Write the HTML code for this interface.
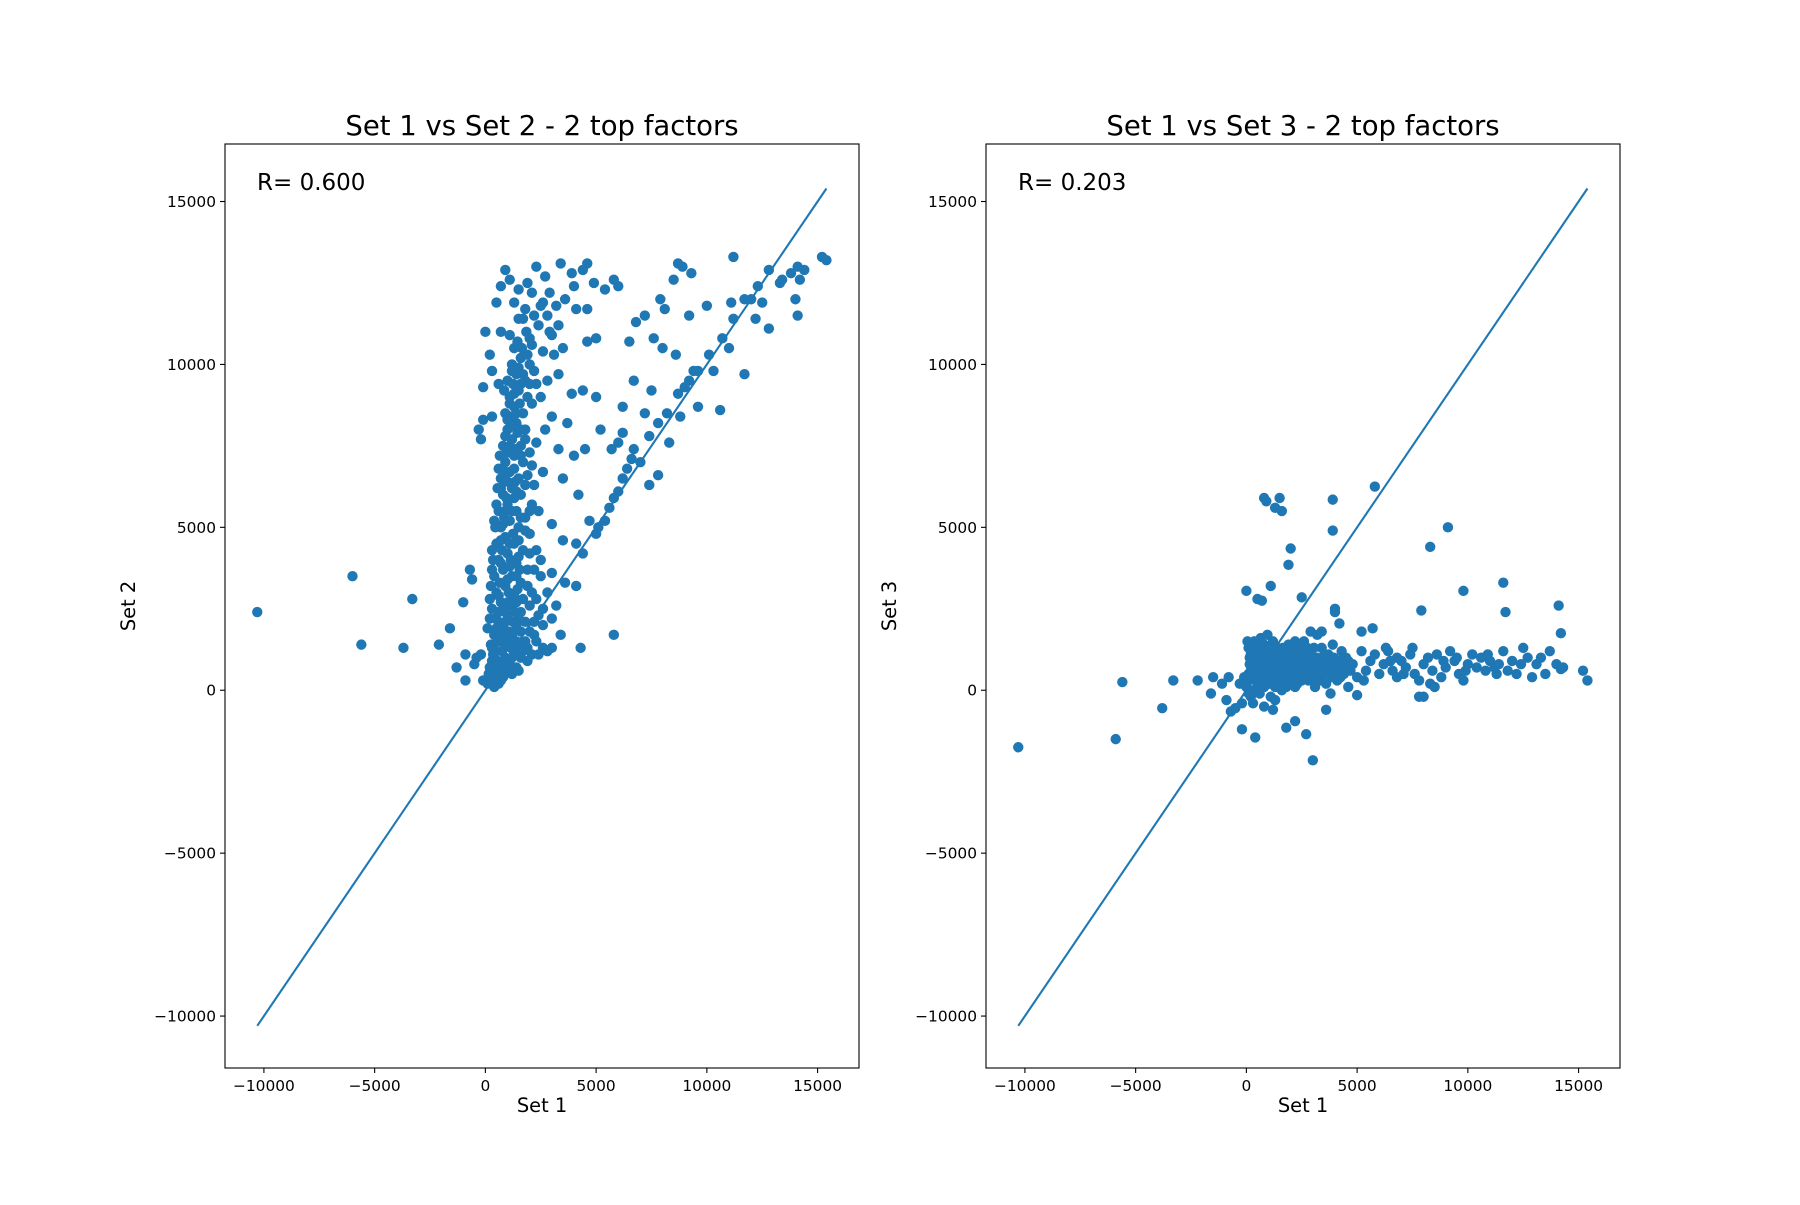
<!DOCTYPE html>
<html><head><meta charset="utf-8"><style>
html,body{margin:0;padding:0;background:#fff;}
svg text{font-family:"DejaVu Sans","Liberation Sans",sans-serif;fill:#000;}
</style></head><body>
<svg id="fig" width="1800" height="1200" viewBox="0 0 1800 1200" xmlns="http://www.w3.org/2000/svg"></svg>
<script>
// ---- data ----
const xTicks = [-10000, -5000, 0, 5000, 10000, 15000];
const yTicks = [-10000, -5000, 0, 5000, 10000, 15000];
const tickLabels = ["\u221210000", "\u22125000", "0", "5000", "10000", "15000"];
const titles = ["Set 1 vs Set 2 - 2 top factors", "Set 1 vs Set 3 - 2 top factors"];
const yLabels = ["Set 2", "Set 3"];
const rValues = ["0.600", "0.203"];
const lineStart = -10300;
const lineEnd = 15400;

const set2Points = [
[-10300,2400],[-6000,3500],[-5600,1400],[-3700,1300],[-3300,2800],[-2100,1400],[-1600,1900],[-1300,700],[-1000,2700],[-900,1100],[-900,300],[-700,3700],[-600,3400],[-500,800],[-400,1000],[-200,1100],[-100,300],[5800,1700],[4300,1300],[3000,1300],[2600,1300],
[100,200],[200,300],[300,250],[400,500],[500,350],[600,700],[300,900],[800,600],[500,1200],[900,1000],[1100,800],[700,1500],[1000,1400],[1300,1100],[400,1700],[800,1900],[1200,1600],[1500,1300],[600,2100],[1000,2300],[1400,2000],[1800,1500],[300,2500],[700,2700],[1100,2600],[1600,2400],[2000,1800],[500,3000],[900,3200],[1300,2900],[1700,2800],[2200,2100],[400,3500],[800,3700],[1200,3500],[1600,3300],[2100,3000],[600,4000],[1000,4200],[1400,3900],[1900,3700],[500,4500],[900,4700],[1300,4500],[1700,4300],[700,5000],[1100,5200],[1500,5000],[2000,4800],[600,5500],[1000,5700],[1400,5500],[1800,5300],[800,6000],[1200,6200],[1600,6000],[700,6500],[1100,6700],[1500,6500],[900,7000],[1300,7200],[1700,7000],[800,7500],[1200,7700],[1600,7500],[1000,8000],[1400,8200],[1800,8000],[900,8500],[1300,8700],[1700,8500],[1100,9000],[1500,9200],[1900,9000],[1000,9500],[1400,9700],[1800,9500],[1200,10000],[1600,10200],[2000,10000],
[200,700],[350,1100],[550,900],[750,1200],[950,600],[1150,1300],[250,1400],[650,1700],[850,1400],[1050,1800],[1250,2100],[450,2200],[850,2500],[1350,2400],[250,3200],[650,3300],[1050,3000],[1450,3100],[350,4000],[750,4300],[1150,4000],[1550,3700],[450,5000],[850,5300],[1250,4800],[950,5900],[1350,6400],[550,6200],[1050,7300],[1450,7900],[650,7200],[1150,8400],[1550,8800],[850,9200],[1250,9400],[1650,10500],[1450,10700],[1850,11000],[2200,6300],[2400,5500],[2600,6700],[2300,7600],[2700,8000],[2500,9000],[1900,6600],[2100,5700],[2300,4300],[2500,3500],[2800,3000],[3200,2600],[2000,2600],[2400,2300],[1800,2100],[1600,1800],[1400,1500],[1200,1000],[1000,700],[800,400],[600,200],[1700,1200],[2100,1100],[1900,900],
[150,500],[450,800],[650,450],[900,800],[1200,1300],[1400,700],[1600,1000],[300,1300],[550,1500],[900,1600],[1300,1800],[100,1900],[500,1900],[900,2100],[1500,2200],[200,2200],[600,2400],[1000,2700],[1400,2700],[200,2800],[600,2900],[1000,3400],[1400,3500],[300,3700],[700,3900],[1100,3800],[1500,4100],[300,4300],[700,4600],[1100,4500],[1500,4600],[400,5200],[800,5100],[1200,5500],[1600,5300],[500,5700],[900,5500],[1300,5900],[700,6200],[1000,6400],[1400,6100],[600,6800],[900,6700],[1300,6800],[1600,7200],[800,7200],[1100,7500],[1400,7400],[900,7800],[1200,8100],[1600,8000],[1000,8300],[1400,8500],[1100,8800],[1300,9100],[1600,9400],[1200,9800],[1500,9900],[1700,9700],[1900,10300],[1300,10500],[2100,10600],[1800,11700],[1500,11400],[2200,11500],[2600,11900],[2900,11000],[3300,11200],[1100,10900],[2300,9400],[2000,9400],[2100,8800],[1800,7700],[2000,7300],[2100,6900],[1800,6300],[2000,5500],[1800,4900],[2000,4200],[2200,3700],[1900,3200],[2300,2800],[2600,2000],[2200,1700],[1900,1300],[2400,1100],[1500,600],[1200,500],[400,100],[700,300],
[0,11000],[200,10300],[500,11900],[700,12400],[900,12900],[1100,12600],[1500,12300],[1900,12500],[2300,13000],[2700,12700],[3400,13100],[3900,12800],[4600,13100],[4400,12900],[4000,12400],[3600,12000],[3200,11800],[2800,11500],[2400,11200],[2000,10800],[2600,10400],[3000,10900],[3500,10500],[4100,11700],[4600,11700],[4900,12500],[5400,12300],[5800,12600],[6000,12400],[2200,9800],[2800,9500],[3300,9700],[3900,9100],[4400,9200],[5000,9000],[4600,10700],[5000,10800],[3000,8400],[3700,8200],[3300,7400],[4000,7200],[4500,7400],[5200,8000],[6200,8700],[3500,6500],[4200,6000],[4700,5200],[3000,5100],[3500,4600],[4100,4500],[2500,4000],[3000,3600],[3600,3300],[4100,3200],[4400,4200],[2600,2500],[3000,2200],[3400,1700],[2300,1500],[2800,1200],[-300,8000],[-200,7700],[300,8400],[-100,8300],[600,9400],[1300,11900],[2100,12200],[2900,12200],[700,11000],[300,9800],[-100,9300],[2500,11800],[1700,11400],[3100,10300],
[5100,5000],[5600,5600],[6000,6100],[6400,6800],[6700,7400],[7000,7000],[7400,7800],[7800,8200],[8200,8500],[8700,9100],[9200,9500],[9600,9800],[10100,10300],[10700,10800],[11200,11400],[11700,12000],[12300,12400],[12800,12900],[13300,12500],[13800,12800],[14200,12600],[14400,12900],[15200,13300],[15400,13200],[14000,12000],[14100,11500],[12800,11100],[12200,11400],[11700,9700],[10600,8600],[9600,8700],[9000,9300],[8600,10300],[8000,10500],[7600,10800],[7200,11500],[6800,11300],[6500,10700],[7900,12000],[8500,12600],[8900,13000],[9300,12800],[8700,13100],[11200,13300],[12500,11900],[11000,10500],[10000,11800],[9200,11500],[8100,11700],[7500,9200],[6700,9500],[7200,8500],[6200,7900],[5700,7400],[6600,7100],[6200,6500],[5800,5900],[5400,5200],[5000,4800],[6000,7600],[7800,6600],[7400,6300],[8300,7600],[8800,8400],[9400,9800],[10300,9800],[11100,11900],[12000,12000],[13400,12600],[14100,13000]
];

const set3Points = [
[-10300,-1750],[-5900,-1500],[-5600,250],[-3800,-550],[-3300,300],[-2200,300],[-1600,-100],[-1500,400],[-900,-300],[-700,-650],[-500,-550],[-1100,200],[-800,400],[0,3050],[400,-1450],[-200,-1200],[800,5900],[900,5800],[1300,5600],[1500,5900],[1600,5500],[3900,5850],[3900,4900],[5800,6250],[9100,5000],[8300,4400],[9800,3050],[11600,3300],[11700,2400],[14100,2600],[14200,1750],[7900,2450],[2000,4350],[1900,3850],[1100,3200],[500,2800],[700,2750],[2500,2850],[1800,-1150],[2700,-1350],[3000,-2150],[2200,-950],[3600,-600],[4000,2500],[4000,2400],[4200,2050],[5200,1800],[5700,1900],[3400,1800],[2200,1500],[2900,1800],[3200,1700],
[0,100],[100,500],[200,-200],[300,900],[400,300],[500,1200],[600,-100],[700,700],[800,1400],[900,200],[1000,1000],[1100,500],[1200,1500],[1300,-300],[1400,800],[1500,300],[1600,1200],[1700,600],[1800,100],[1900,1000],[2000,500],[2100,1300],[2200,800],[2300,200],[2400,1100],[2500,600],[2600,1500],[2700,900],[2800,300],[2900,1200],[3000,700],[3100,100],[3200,1000],[3300,500],[3400,1300],[3500,800],[3600,200],[3700,1100],[3800,600],[3900,1400],[4000,900],[4100,300],[4200,700],[4300,1200],[4400,500],[4600,900],
[100,1300],[200,600],[300,0],[400,1100],[500,700],[600,400],[700,1000],[800,100],[900,1200],[1000,600],[1100,-200],[1200,900],[1300,400],[1400,1300],[1500,700],[1600,0],[1700,1000],[1800,500],[1900,1400],[2000,900],[2100,200],[2200,1100],[2300,600],[2400,1400],[2500,300],[2600,900],[2700,600],[2800,1100],[2900,400],[3000,1000],[3300,900],[3600,1000],[150,800],[450,400],[750,300],[1050,1300],[1350,700],[1650,500],[1950,700],[2250,300],[50,1500],[350,1500],[650,1600],[950,1700],[1250,1100],[1550,1000],[1850,800],[2150,600],[2450,800],[2750,1000],[3050,400],[3350,300],[3650,600],[-100,400],[-300,200],[-200,-400],[300,-400],[800,-500],[1200,-600],
[50,300],[150,1000],[250,400],[350,700],[450,1300],[550,200],[650,900],[750,500],[850,1100],[950,400],[1050,800],[1150,1100],[1250,300],[1350,1200],[1450,500],[1550,800],[1650,1300],[1750,300],[1850,1100],[1950,400],[2050,1100],[2150,900],[2250,1300],[2350,500],[2450,1200],[2550,400],[2650,700],[2750,1300],[2850,700],[2950,900],[3050,1300],[3150,600],[3250,800],[3450,600],[3550,1100],[3750,800],[3850,400],[3950,1000],[4150,900],[4250,400],[4450,800],[4700,600],[100,-100],[400,0],[700,100],[1000,200],[1300,100],[1600,400],[1900,200],[2200,100],[600,1300],[900,800],[1200,700],[1500,1100],[1800,900],[2100,700],[2400,900],[2700,400],[3000,500],[3300,700],[200,1100],[500,500],[800,900],[1100,1000],[1400,400],[1700,800],[2000,1100],[2300,1000],[2600,700],[2900,600],[3200,400],[3500,500],[3800,900],[4100,600],[4400,1000],
[4000,700],[4300,500],[4500,1000],[4800,800],[5000,400],[5200,1200],[5400,600],[5600,900],[5800,1100],[6000,500],[6200,800],[6400,1200],[6600,600],[6800,400],[7000,900],[7200,700],[7400,1100],[7600,500],[7800,300],[8000,800],[8200,1000],[8400,600],[8600,1100],[8800,400],[9000,700],[9200,1200],[9400,900],[9600,500],[9800,300],[10000,800],[10200,1100],[10400,700],[10600,1000],[10800,600],[11000,900],[11200,700],[11400,800],[11600,1200],[11800,600],[12000,900],[12200,500],[12500,1300],[12700,1000],[12900,400],[13100,800],[13300,1000],[13500,500],[13700,1200],[14000,800],[14300,700],[15200,600],[15400,300],[14200,650],[7500,1300],[8300,200],[9500,1000],[6300,1300],[5300,300],[4600,100],[7800,-200],[8000,-200],[8500,100],[3800,-100],[6800,1000],[5000,-150],[6500,900],[7100,500],[8900,900],[9900,600],[10900,1100],[11300,500],[12400,800]
];

// ---- layout ----
const NS = "http://www.w3.org/2000/svg";
const svg = document.getElementById("fig");
const panels = [{x0:225, x1:859}, {x0:986, x1:1620}];
const axTop = 144, axBottom = 1068;
const xMin = -11757, xMax = 16870, yMin = -11594, yMax = 16765;
const datasets = [set2Points, set3Points];
const color = "#1f77b4";

function mk(tag, attrs, parent){
  const e = document.createElementNS(NS, tag);
  for (const k in attrs) e.setAttribute(k, attrs[k]);
  (parent||svg).appendChild(e);
  return e;
}

panels.forEach((p, i) => {
  const sx = v => p.x0 + (v - xMin) / (xMax - xMin) * (p.x1 - p.x0);
  const sy = v => axBottom - (v - yMin) / (yMax - yMin) * (axBottom - axTop);
  const g = mk("g", {});
  
  

  const pts = mk("g", {}, g);
  
  
  datasets[i].forEach(d => {
    const c = mk("circle", {cx: sx(d[0]), cy: sy(d[1]), r: 5.2, fill: color}, pts);
    
    
  });

  const ln = mk("line", {x1: sx(lineStart), y1: sy(lineStart), x2: sx(lineEnd), y2: sy(lineEnd), stroke: color, "stroke-width": 2.1}, g);
  
  

  const fr = mk("rect", {x: p.x0, y: axTop, width: p.x1 - p.x0, height: axBottom - axTop, fill: "none", stroke: "#000", "stroke-width": 1.1}, g);
  
  

  xTicks.forEach((v, k) => {
    const x = sx(v);
    const t = mk("line", {x1: x, y1: axBottom, x2: x, y2: axBottom + 5, stroke: "#000", "stroke-width": 1.1}, g);
    
    
    const tl = mk("text", {x: x, y: axBottom + 23, "font-size": 15.4, "text-anchor": "middle"}, g);
    tl.textContent = tickLabels[k];
    
    
  });
  yTicks.forEach((v, k) => {
    const y = sy(v);
    const t = mk("line", {x1: p.x0 - 5, y1: y, x2: p.x0, y2: y, stroke: "#000", "stroke-width": 1.1}, g);
    
    
    const tl = mk("text", {x: p.x0 - 9, y: y + 5.5, "font-size": 15.4, "text-anchor": "end"}, g);
    tl.textContent = tickLabels[k];
    
    
  });

  const cx = (p.x0 + p.x1) / 2;
  const title = mk("text", {x: cx, y: 135, "font-size": 27.5, "text-anchor": "middle"}, g);
  title.textContent = titles[i];
  
  

  const xl = mk("text", {x: cx, y: 1112, "font-size": 19.4, "text-anchor": "middle"}, g);
  xl.textContent = "Set 1";
  
  

  const yx = p.x0 - 90, yy = (axTop + axBottom) / 2;
  const yl = mk("text", {x: yx, y: yy, "font-size": 19.4, "text-anchor": "middle", transform: `rotate(-90 ${yx} ${yy})`}, g);
  yl.textContent = yLabels[i];
  
  

  const r = mk("text", {x: p.x0 + 32, y: 190, "font-size": 23}, g);
  r.textContent = "R= " + rValues[i];
  
  
});
</script>
</body></html>
